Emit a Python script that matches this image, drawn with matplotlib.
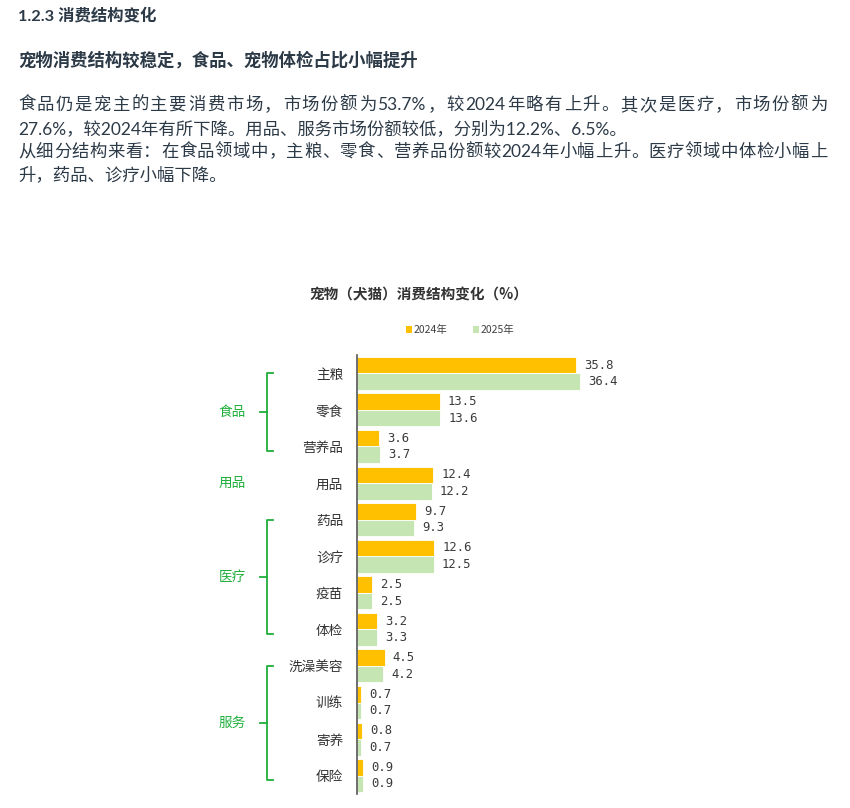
import matplotlib
matplotlib.use("Agg")
import matplotlib.pyplot as plt
from matplotlib.patches import Patch
from matplotlib.lines import Line2D
import matplotlib.transforms as mtransforms
import numpy as np
import re

plt.rcParams['font.family'] = ['Noto Sans CJK SC', 'DejaVu Sans']

# ---------------- data ----------------
categories = ['主粮', '零食', '营养品', '用品', '药品', '诊疗', '疫苗', '体检',
              '洗澡美容', '训练', '寄养', '保险']
values_2024 = [35.8, 13.5, 3.6, 12.4, 9.7, 12.6, 2.5, 3.2, 4.5, 0.7, 0.8, 0.9]
values_2025 = [36.4, 13.6, 3.7, 12.2, 9.3, 12.5, 2.5, 3.3, 4.2, 0.7, 0.7, 0.9]
series_names = ['2024年', '2025年']
groups = ['食品', '用品', '医疗', '服务']
group_members = [['主粮', '零食', '营养品'], ['用品'],
                 ['药品', '诊疗', '疫苗', '体检'],
                 ['洗澡美容', '训练', '寄养', '保险']]

header = '1.2.3 消费结构变化'
subheader = '宠物消费结构较稳定，食品、宠物体检占比小幅提升'
body_lines = [
    '食品仍是宠主的主要消费市场，市场份额为53.7%，较2024年略有上升。其次是医疗，市场份额为',
    '27.6%，较2024年有所下降。用品、服务市场份额较低，分别为12.2%、6.5%。',
    '从细分结构来看：在食品领域中，主粮、零食、营养品份额较2024年小幅上升。医疗领域中体检小幅上',
    '升，药品、诊疗小幅下降。',
]
body_justify = [True, False, True, False]
chart_title = '宠物（犬猫）消费结构变化（%）'

# ---------------- figure ----------------
W, H = 850, 808
fig = plt.figure(figsize=(W / 100, H / 100), dpi=100)
fig.patch.set_facecolor('white')
renderer = fig.canvas.get_renderer()

def fx(px):
    return px / W

def fy(py):
    return 1 - py / H

text_col = '#2c3a47'
head_font = ['Lato', 'Noto Sans CJK SC']
body_font = ['Lato', 'Noto Sans CJK SC']

fig.text(fx(18), fy(16), header, fontsize=11.8, fontweight='bold', color=text_col,
         va='center', ha='left', family=head_font)
fig.text(fx(18), fy(60), subheader, fontsize=12.5, fontweight='bold', color=text_col,
         va='center', ha='left', family=head_font)

body_size = 12.5
x_start, x_end = 18, 827

def text_width(s):
    t = fig.text(0, 0, s, fontsize=body_size, family=body_font)
    w = t.get_window_extent(renderer=renderer).width
    t.remove()
    return w

for i, (line, just) in enumerate(zip(body_lines, body_justify)):
    yy = fy(105 + 23.3 * i)
    if not just:
        fig.text(fx(x_start), yy, line, fontsize=body_size, color=text_col,
                 va='center', ha='left', family=body_font)
        continue
    tokens = re.findall(r'[0-9.%]+|.', line)
    widths = [text_width(tk) for tk in tokens]
    extra = (x_end - x_start - sum(widths)) / (len(tokens) - 1)
    x = x_start
    for tk, w in zip(tokens, widths):
        fig.text(fx(x), yy, tk, fontsize=body_size, color=text_col,
                 va='center', ha='left', family=body_font)
        x += w + extra

# axes placement (pixels)
ax_left, ax_top, ax_bottom = 357, 355, 794
xmax = 50
ax_width = 6.12 * xmax
ax = fig.add_axes([fx(ax_left), fy(ax_bottom), ax_width / W, (ax_bottom - ax_top) / H])

c2024 = '#FFC000'
c2025 = '#C5E6B3'
y = np.arange(len(categories))
h = 0.45
ax.barh(y - h / 2, values_2024, height=h, color=c2024, edgecolor='white', linewidth=0.6,
        label=series_names[0])
ax.barh(y + h / 2, values_2025, height=h, color=c2025, edgecolor='white', linewidth=0.6,
        label=series_names[1])

ax.set_xlim(0, xmax)
ax.set_ylim(len(categories) - 0.5, -0.5)
for s in ['top', 'right', 'bottom']:
    ax.spines[s].set_visible(False)
ax.spines['left'].set_color('#555555')
ax.spines['left'].set_linewidth(1.2)
ax.set_xticks([])
ax.set_yticks(y)
ax.set_yticklabels(categories, fontsize=9.8, color='#333333')
ax.tick_params(axis='y', length=0, pad=10)

off = 1.35
for yi, v in zip(y, values_2024):
    ax.text(v + off, yi - h / 2, f'{v:.1f}', va='center', ha='left',
            fontsize=8.8, family='DejaVu Sans Mono', color='#3a3a3a')
for yi, v in zip(y, values_2025):
    ax.text(v + off, yi + h / 2, f'{v:.1f}', va='center', ha='left',
            fontsize=8.8, family='DejaVu Sans Mono', color='#3a3a3a')

# title & legend
fig.text(fx(419), fy(294), chart_title, fontsize=10.5, fontweight='bold',
         color='#333333', ha='center', va='center')
handles = [Patch(facecolor=c2024, edgecolor='none'), Patch(facecolor=c2025, edgecolor='none')]
fig.legend(handles, series_names, loc='center', bbox_to_anchor=(fx(460), fy(330)),
           ncol=2, frameon=False, fontsize=7.5, handlelength=0.6, handleheight=0.6,
           handletextpad=0.15, columnspacing=2.4, labelcolor='#404040')

# group labels and braces
gcol = '#1FAF3A'
trans = mtransforms.blended_transform_factory(ax.transAxes, ax.transData)

def axfrac(px):
    return (px - ax_left) / ax_width

for g, members in zip(groups, group_members):
    idx = [categories.index(m) for m in members]
    if len(idx) > 1:
        y0 = min(idx) - 0.0
        y1 = max(idx) + 0.12
        ym = (y0 + y1) / 2
        xv, xs, xt = axfrac(267), axfrac(273), axfrac(260)
        ax.add_line(Line2D([xs, xv, xv, xs], [y0, y0, y1, y1], transform=trans,
                           color=gcol, lw=1.3, clip_on=False, solid_joinstyle='round'))
        ax.add_line(Line2D([xt, xv], [ym, ym], transform=trans, color=gcol, lw=1.3,
                           clip_on=False))
    else:
        ym = idx[0]
    ax.text(axfrac(232), ym, g, transform=trans, ha='center', va='center',
            fontsize=9.8, color=gcol)

fig.savefig('out.png', dpi=100, facecolor='white')
